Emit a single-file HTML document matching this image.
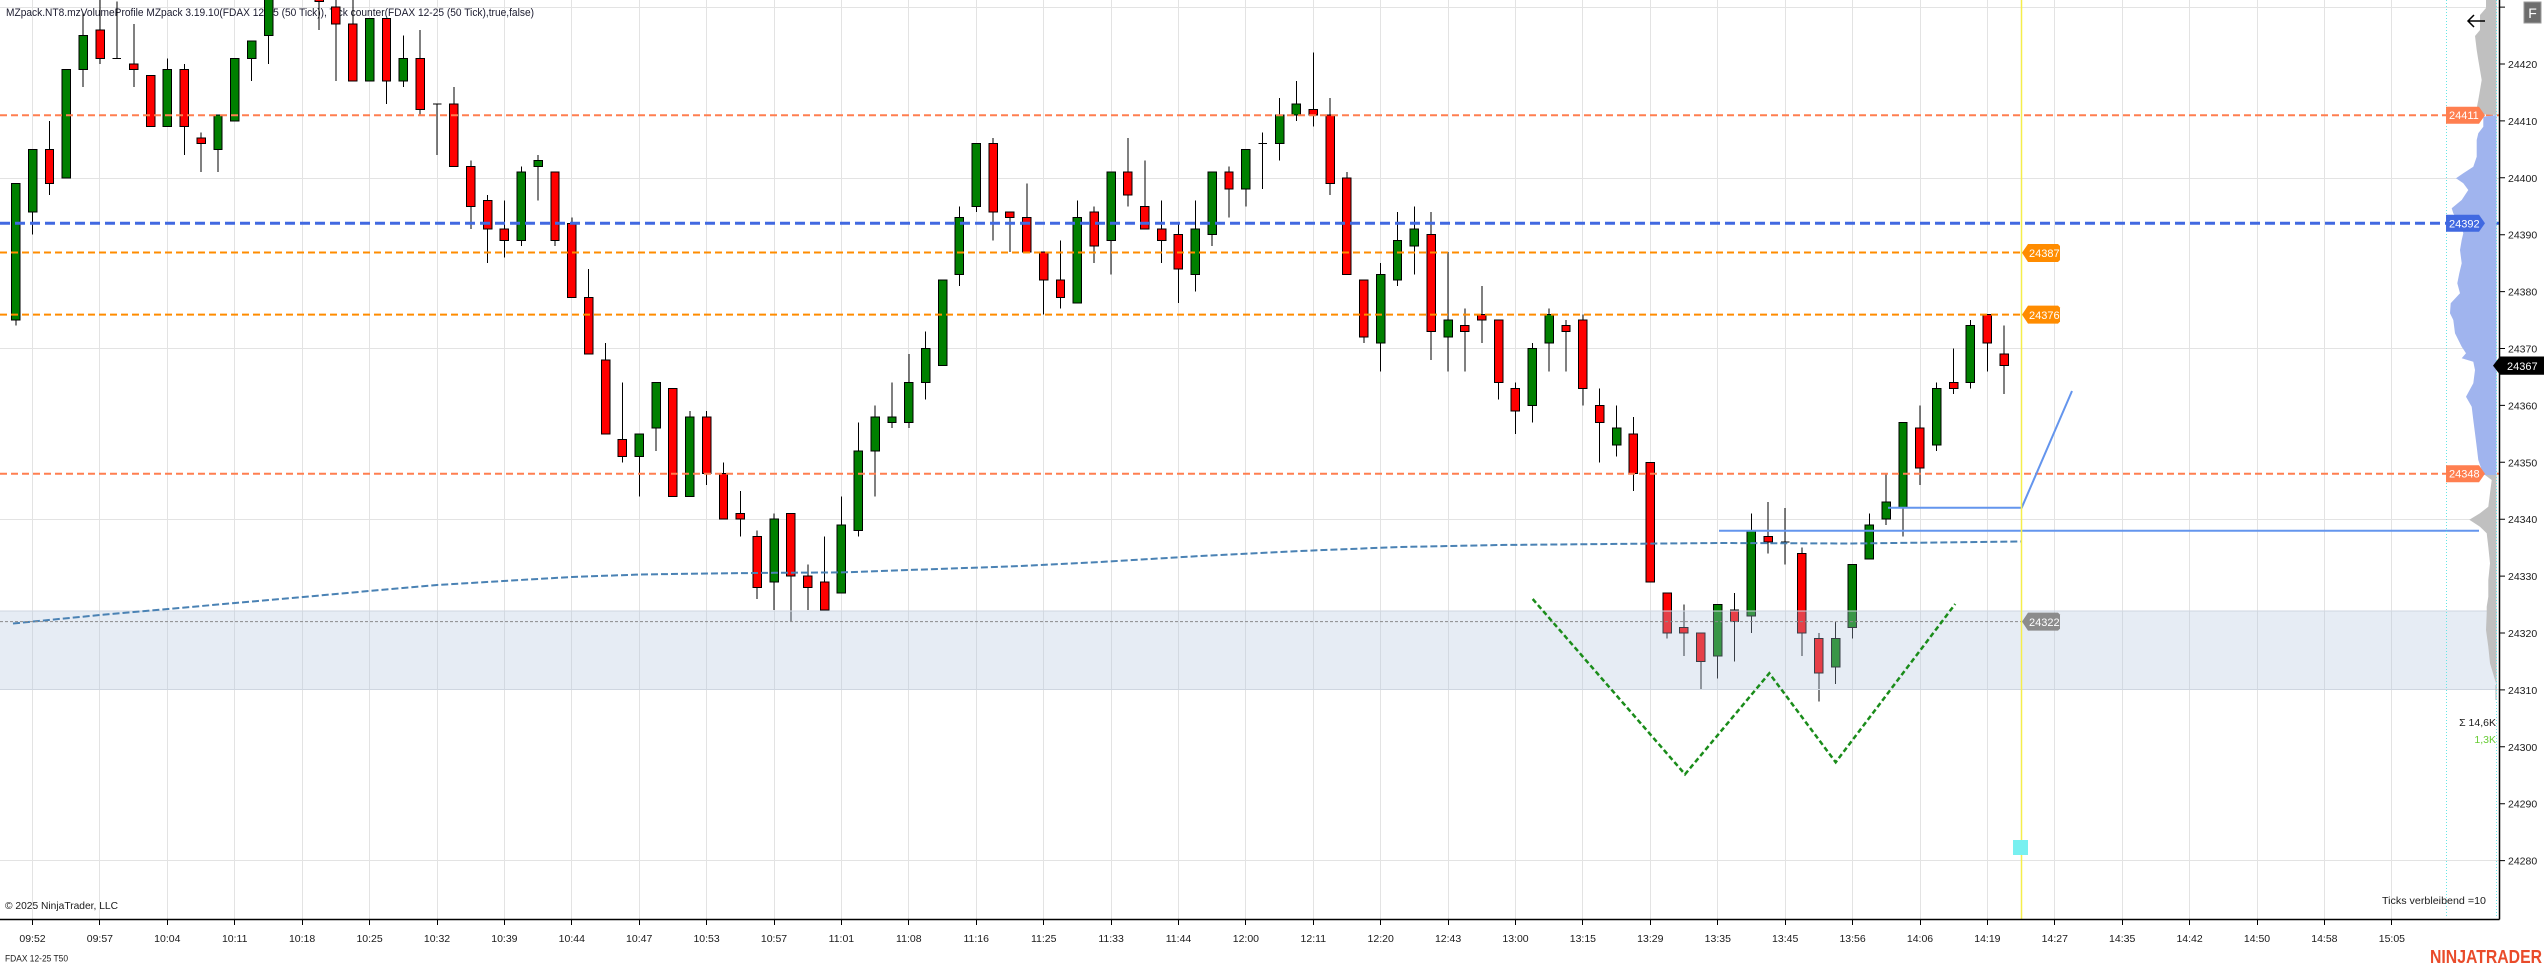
<!DOCTYPE html>
<html><head><meta charset="utf-8"><style>
html,body{margin:0;padding:0;background:#fff;}
body{width:2544px;height:968px;overflow:hidden;}
svg{display:block;font-family:"Liberation Sans",sans-serif;}
</style></head><body>
<svg width="2544" height="968" viewBox="0 0 2544 968" xmlns="http://www.w3.org/2000/svg">
<defs><clipPath id="pc"><rect x="0" y="0" width="2499" height="919"/></clipPath></defs>
<rect width="2544" height="968" fill="#fff"/>
<g stroke="#e3e3e3" stroke-width="1" shape-rendering="crispEdges">
<path d="M32.5 0V919M99.5 0V919M167.5 0V919M234.5 0V919M302.5 0V919M369.5 0V919M437.5 0V919M504.5 0V919M571.5 0V919M639.5 0V919M706.5 0V919M774.5 0V919M841.5 0V919M908.5 0V919M976.5 0V919M1043.5 0V919M1111.5 0V919M1178.5 0V919M1245.5 0V919M1313.5 0V919M1380.5 0V919M1448.5 0V919M1515.5 0V919M1582.5 0V919M1650.5 0V919M1717.5 0V919M1785.5 0V919M1852.5 0V919M1920.5 0V919M1987.5 0V919M2054.5 0V919M2122.5 0V919M2189.5 0V919M2257.5 0V919M2324.5 0V919M2391.5 0V919"/>
<path d="M0 7.5H2499M0 178.5H2499M0 348.5H2499M0 519.5H2499M0 689.5H2499M0 860.5H2499"/>
</g>
<text x="6" y="16" font-size="11" fill="#1b1b2f" textLength="528" lengthAdjust="spacingAndGlyphs">MZpack.NT8.mzVolumeProfile MZpack 3.19.10(FDAX 12-25 (50 Tick)), Tick counter(FDAX 12-25 (50 Tick),true,false)</text>
<g clip-path="url(#pc)">
<g transform="translate(15.8,746.8) scale(16.85,-5.69)" shape-rendering="crispEdges">
<path fill="none" stroke="#000" stroke-width="1" vector-effect="non-scaling-stroke" d="M0 99V74M1 105V90M2 110V97M3 119V100M4 129V116M5 133V120M6 131V121M7 127V116M8 118V109M9 121V109M10 120V104M11 108V101M12 111V101M13 121V110M14 124V117M15 135V120M16 142V133M17 141V133M18 136V126M19 133V117M20 133V117M21 128V117M22 128V113M23 125V116M24 126V111M25 113V104M26 116V102M27 103V91M28 97V85M29 96V86M30 102V88M31 104V96M32 101V88M33 93V79M34 84V69M35 71V55M36 64V50M37 55V44M38 64V52M39 63V44M40 59V44M41 59V46M42 50V40M43 45V37M44 38V26M45 41V24M46 41V22M47 32V24M48 37V24M49 44V27M50 57V37M51 60V44M52 64V56M53 69V56M54 73V61M55 82V67M56 95V81M57 106V94M58 107V89M59 94V87M60 99V87M61 87V76M62 89V77M63 96V78M64 95V85M65 101V83M66 107V95M67 103V91M68 96V85M69 92V78M70 96V80M71 101V88M72 102V93M73 105V95M74 108V98M75 114V103M76 117V110M77 122V109M78 114V97M79 101V83M80 82V71M81 85V66M82 94V81M83 95V83M84 94V68M85 87V66M86 77V66M87 81V71M88 75V61M89 64V55M90 71V57M91 77V66M92 75V66M93 76V60M94 63V50M95 60V51M96 58V45M97 50V29M98 27V19M99 25V16M100 20V10M101 25V12M102 27V15M103 41V20M104 43V34M105 42V32M106 35V16M107 20V8M108 22V11M109 32V19M110 41V33M111 48V39M112 57V37M113 60V46M114 64V52M115 70V62M116 75V63M117 76V66M118 74V62M5.75 121H6.25M24.75 113H25.25M73.75 106H74.25M104.75 36H105.25"/>
<g fill="#008000" stroke="#000" stroke-width="1" vector-effect="non-scaling-stroke">
<rect x="-0.25" y="75" width="0.5" height="24" vector-effect="non-scaling-stroke"/>
<rect x="0.75" y="94" width="0.5" height="11" vector-effect="non-scaling-stroke"/>
<rect x="2.75" y="100" width="0.5" height="19" vector-effect="non-scaling-stroke"/>
<rect x="3.75" y="119" width="0.5" height="6" vector-effect="non-scaling-stroke"/>
<rect x="8.75" y="109" width="0.5" height="10" vector-effect="non-scaling-stroke"/>
<rect x="11.75" y="105" width="0.5" height="6" vector-effect="non-scaling-stroke"/>
<rect x="12.75" y="110" width="0.5" height="11" vector-effect="non-scaling-stroke"/>
<rect x="13.75" y="121" width="0.5" height="3" vector-effect="non-scaling-stroke"/>
<rect x="14.75" y="125" width="0.5" height="10" vector-effect="non-scaling-stroke"/>
<rect x="15.75" y="133" width="0.5" height="7" vector-effect="non-scaling-stroke"/>
<rect x="20.75" y="117" width="0.5" height="11" vector-effect="non-scaling-stroke"/>
<rect x="22.75" y="117" width="0.5" height="4" vector-effect="non-scaling-stroke"/>
<rect x="29.75" y="89" width="0.5" height="12" vector-effect="non-scaling-stroke"/>
<rect x="30.75" y="102" width="0.5" height="1" vector-effect="non-scaling-stroke"/>
<rect x="36.75" y="51" width="0.5" height="4" vector-effect="non-scaling-stroke"/>
<rect x="37.75" y="56" width="0.5" height="8" vector-effect="non-scaling-stroke"/>
<rect x="39.75" y="44" width="0.5" height="14" vector-effect="non-scaling-stroke"/>
<rect x="44.75" y="29" width="0.5" height="11" vector-effect="non-scaling-stroke"/>
<rect x="48.75" y="27" width="0.5" height="12" vector-effect="non-scaling-stroke"/>
<rect x="49.75" y="38" width="0.5" height="14" vector-effect="non-scaling-stroke"/>
<rect x="50.75" y="52" width="0.5" height="6" vector-effect="non-scaling-stroke"/>
<rect x="51.75" y="57" width="0.5" height="1" vector-effect="non-scaling-stroke"/>
<rect x="52.75" y="57" width="0.5" height="7" vector-effect="non-scaling-stroke"/>
<rect x="53.75" y="64" width="0.5" height="6" vector-effect="non-scaling-stroke"/>
<rect x="54.75" y="67" width="0.5" height="15" vector-effect="non-scaling-stroke"/>
<rect x="55.75" y="83" width="0.5" height="10" vector-effect="non-scaling-stroke"/>
<rect x="56.75" y="95" width="0.5" height="11" vector-effect="non-scaling-stroke"/>
<rect x="62.75" y="78" width="0.5" height="15" vector-effect="non-scaling-stroke"/>
<rect x="64.75" y="89" width="0.5" height="12" vector-effect="non-scaling-stroke"/>
<rect x="69.75" y="83" width="0.5" height="8" vector-effect="non-scaling-stroke"/>
<rect x="70.75" y="90" width="0.5" height="11" vector-effect="non-scaling-stroke"/>
<rect x="72.75" y="98" width="0.5" height="7" vector-effect="non-scaling-stroke"/>
<rect x="74.75" y="106" width="0.5" height="5" vector-effect="non-scaling-stroke"/>
<rect x="75.75" y="111" width="0.5" height="2" vector-effect="non-scaling-stroke"/>
<rect x="80.75" y="71" width="0.5" height="12" vector-effect="non-scaling-stroke"/>
<rect x="81.75" y="82" width="0.5" height="7" vector-effect="non-scaling-stroke"/>
<rect x="82.75" y="88" width="0.5" height="3" vector-effect="non-scaling-stroke"/>
<rect x="84.75" y="72" width="0.5" height="3" vector-effect="non-scaling-stroke"/>
<rect x="89.75" y="60" width="0.5" height="10" vector-effect="non-scaling-stroke"/>
<rect x="90.75" y="71" width="0.5" height="5" vector-effect="non-scaling-stroke"/>
<rect x="94.75" y="53" width="0.5" height="3" vector-effect="non-scaling-stroke"/>
<rect x="100.75" y="16" width="0.5" height="9" vector-effect="non-scaling-stroke"/>
<rect x="102.75" y="23" width="0.5" height="15" vector-effect="non-scaling-stroke"/>
<rect x="107.75" y="14" width="0.5" height="5" vector-effect="non-scaling-stroke"/>
<rect x="108.75" y="21" width="0.5" height="11" vector-effect="non-scaling-stroke"/>
<rect x="109.75" y="33" width="0.5" height="6" vector-effect="non-scaling-stroke"/>
<rect x="110.75" y="40" width="0.5" height="3" vector-effect="non-scaling-stroke"/>
<rect x="111.75" y="42" width="0.5" height="15" vector-effect="non-scaling-stroke"/>
<rect x="113.75" y="53" width="0.5" height="10" vector-effect="non-scaling-stroke"/>
<rect x="115.75" y="64" width="0.5" height="10" vector-effect="non-scaling-stroke"/>
</g>
<g fill="#ff0000" stroke="#000" stroke-width="1">
<rect x="1.75" y="99" width="0.5" height="6" vector-effect="non-scaling-stroke"/>
<rect x="4.75" y="121" width="0.5" height="5" vector-effect="non-scaling-stroke"/>
<rect x="6.75" y="119" width="0.5" height="1" vector-effect="non-scaling-stroke"/>
<rect x="7.75" y="109" width="0.5" height="9" vector-effect="non-scaling-stroke"/>
<rect x="9.75" y="109" width="0.5" height="10" vector-effect="non-scaling-stroke"/>
<rect x="10.75" y="106" width="0.5" height="1" vector-effect="non-scaling-stroke"/>
<rect x="16.75" y="134" width="0.5" height="6" vector-effect="non-scaling-stroke"/>
<rect x="17.75" y="131" width="0.5" height="3" vector-effect="non-scaling-stroke"/>
<rect x="18.75" y="127" width="0.5" height="3" vector-effect="non-scaling-stroke"/>
<rect x="19.75" y="117" width="0.5" height="10" vector-effect="non-scaling-stroke"/>
<rect x="21.75" y="117" width="0.5" height="11" vector-effect="non-scaling-stroke"/>
<rect x="23.75" y="112" width="0.5" height="9" vector-effect="non-scaling-stroke"/>
<rect x="25.75" y="102" width="0.5" height="11" vector-effect="non-scaling-stroke"/>
<rect x="26.75" y="95" width="0.5" height="7" vector-effect="non-scaling-stroke"/>
<rect x="27.75" y="91" width="0.5" height="5" vector-effect="non-scaling-stroke"/>
<rect x="28.75" y="89" width="0.5" height="2" vector-effect="non-scaling-stroke"/>
<rect x="31.75" y="89" width="0.5" height="12" vector-effect="non-scaling-stroke"/>
<rect x="32.75" y="79" width="0.5" height="13" vector-effect="non-scaling-stroke"/>
<rect x="33.75" y="69" width="0.5" height="10" vector-effect="non-scaling-stroke"/>
<rect x="34.75" y="55" width="0.5" height="13" vector-effect="non-scaling-stroke"/>
<rect x="35.75" y="51" width="0.5" height="3" vector-effect="non-scaling-stroke"/>
<rect x="38.75" y="44" width="0.5" height="19" vector-effect="non-scaling-stroke"/>
<rect x="40.75" y="48" width="0.5" height="10" vector-effect="non-scaling-stroke"/>
<rect x="41.75" y="40" width="0.5" height="8" vector-effect="non-scaling-stroke"/>
<rect x="42.75" y="40" width="0.5" height="1" vector-effect="non-scaling-stroke"/>
<rect x="43.75" y="28" width="0.5" height="9" vector-effect="non-scaling-stroke"/>
<rect x="45.75" y="30" width="0.5" height="11" vector-effect="non-scaling-stroke"/>
<rect x="46.75" y="28" width="0.5" height="2" vector-effect="non-scaling-stroke"/>
<rect x="47.75" y="24" width="0.5" height="5" vector-effect="non-scaling-stroke"/>
<rect x="57.75" y="94" width="0.5" height="12" vector-effect="non-scaling-stroke"/>
<rect x="58.75" y="93" width="0.5" height="1" vector-effect="non-scaling-stroke"/>
<rect x="59.75" y="87" width="0.5" height="6" vector-effect="non-scaling-stroke"/>
<rect x="60.75" y="82" width="0.5" height="5" vector-effect="non-scaling-stroke"/>
<rect x="61.75" y="79" width="0.5" height="3" vector-effect="non-scaling-stroke"/>
<rect x="63.75" y="88" width="0.5" height="6" vector-effect="non-scaling-stroke"/>
<rect x="65.75" y="97" width="0.5" height="4" vector-effect="non-scaling-stroke"/>
<rect x="66.75" y="91" width="0.5" height="4" vector-effect="non-scaling-stroke"/>
<rect x="67.75" y="89" width="0.5" height="2" vector-effect="non-scaling-stroke"/>
<rect x="68.75" y="84" width="0.5" height="6" vector-effect="non-scaling-stroke"/>
<rect x="71.75" y="98" width="0.5" height="3" vector-effect="non-scaling-stroke"/>
<rect x="76.75" y="111" width="0.5" height="1" vector-effect="non-scaling-stroke"/>
<rect x="77.75" y="99" width="0.5" height="12" vector-effect="non-scaling-stroke"/>
<rect x="78.75" y="83" width="0.5" height="17" vector-effect="non-scaling-stroke"/>
<rect x="79.75" y="72" width="0.5" height="10" vector-effect="non-scaling-stroke"/>
<rect x="83.75" y="73" width="0.5" height="17" vector-effect="non-scaling-stroke"/>
<rect x="85.75" y="73" width="0.5" height="1" vector-effect="non-scaling-stroke"/>
<rect x="86.75" y="75" width="0.5" height="1" vector-effect="non-scaling-stroke"/>
<rect x="87.75" y="64" width="0.5" height="11" vector-effect="non-scaling-stroke"/>
<rect x="88.75" y="59" width="0.5" height="4" vector-effect="non-scaling-stroke"/>
<rect x="91.75" y="73" width="0.5" height="1" vector-effect="non-scaling-stroke"/>
<rect x="92.75" y="63" width="0.5" height="12" vector-effect="non-scaling-stroke"/>
<rect x="93.75" y="57" width="0.5" height="3" vector-effect="non-scaling-stroke"/>
<rect x="95.75" y="48" width="0.5" height="7" vector-effect="non-scaling-stroke"/>
<rect x="96.75" y="29" width="0.5" height="21" vector-effect="non-scaling-stroke"/>
<rect x="97.75" y="20" width="0.5" height="7" vector-effect="non-scaling-stroke"/>
<rect x="98.75" y="20" width="0.5" height="1" vector-effect="non-scaling-stroke"/>
<rect x="99.75" y="15" width="0.5" height="5" vector-effect="non-scaling-stroke"/>
<rect x="101.75" y="22" width="0.5" height="2" vector-effect="non-scaling-stroke"/>
<rect x="103.75" y="36" width="0.5" height="1" vector-effect="non-scaling-stroke"/>
<rect x="105.75" y="20" width="0.5" height="14" vector-effect="non-scaling-stroke"/>
<rect x="106.75" y="13" width="0.5" height="6" vector-effect="non-scaling-stroke"/>
<rect x="112.75" y="49" width="0.5" height="7" vector-effect="non-scaling-stroke"/>
<rect x="114.75" y="63" width="0.5" height="1" vector-effect="non-scaling-stroke"/>
<rect x="116.75" y="71" width="0.5" height="5" vector-effect="non-scaling-stroke"/>
<rect x="117.75" y="67" width="0.5" height="2" vector-effect="non-scaling-stroke"/>
</g>
</g>
<!-- band overlay -->
<rect x="0" y="611" width="2497" height="78.5" fill="rgb(176,196,222)" fill-opacity="0.32"/>
<path d="M0 611H2497M0 689.5H2497" stroke="#cfd6e0" stroke-width="1"/>
<!-- VWAP -->
<polyline fill="none" stroke="#4a82b4" stroke-width="2" stroke-dasharray="7,3" points="13,623.5 100,615 168,609 235,603 303,597 369,591 437,585 520,580 572,577 640,574.5 707,573.5 774,572.8 842,572.4 909,570 977,567.6 1020,566 1100,562 1200,556 1300,551 1400,547 1500,545 1718,543 1852,543.5 2021,541.5"/>
<!-- level lines -->
<path d="M0 115.2H2499M0 473.7H2499" stroke="#ff7f50" stroke-width="2" stroke-dasharray="7,4"/>
<path d="M0 223.3H2499" stroke="#4169e1" stroke-width="3" stroke-dasharray="10,5"/>
<path d="M0 252.5H2021M0 314.6H2021" stroke="#ff8c00" stroke-width="2" stroke-dasharray="7,4"/>
<path d="M0 621.6H2021" stroke="#8a8a8a" stroke-width="1" stroke-dasharray="3,2"/>
<!-- pattern drawings -->
<polyline fill="none" stroke="#1a8c1a" stroke-width="2.5" stroke-dasharray="5,3" points="1532.7,599 1685,774.3 1769.3,673.3 1835.7,762.3 1955.2,604"/>
<path d="M1719 530.7H2479" stroke="#6495ed" stroke-width="2"/>
<polyline fill="none" stroke="#6495ed" stroke-width="2" points="1888,507.7 2021.7,507.7 2072,391"/>
</g>
<!-- volume profile -->
<polygon fill="#c0c0c0" points="2496.5,0 2486,0 2486,8 2480,15 2480,30 2475,36 2476.7,50 2478.3,60 2480,70 2481.7,80 2480,90 2478.3,100 2476.7,108 2477,114 2496.5,115"/>
<polygon fill="#a0b4ee" points="2496.5,115 2483.3,116.7 2483.3,126.7 2478.3,133.3 2476.7,140 2476.7,156.7 2473.3,166.7 2463.3,173.3 2456,178.3 2463.3,183.3 2468.3,190 2461.7,200 2451.7,208.3 2453.3,213.3 2461.7,226.7 2463.3,233.3 2461.7,240 2460,250 2461.7,263.3 2459.3,273.3 2457.3,283.3 2460,293.3 2450.7,303.3 2450,313.3 2453.3,320 2455,333.3 2461.7,346.7 2466,353.3 2461.7,358.3 2473.3,361.7 2475,370 2473.3,383.3 2466,396.7 2471.7,406.7 2473.3,420 2475,433.3 2476.7,446.7 2478.3,460 2481.7,470 2483.3,475 2496.5,475"/>
<polygon fill="#c0c0c0" points="2496.5,475 2485,475 2491.7,480 2490,493.3 2488.3,506.7 2480,513.3 2469.3,519.7 2480,526.7 2486.7,533.3 2488.3,546.7 2490,563.3 2488.3,580 2488.3,596.7 2486.7,606.7 2486.7,613.3 2486,630 2488.3,646.7 2490,663.3 2495,680 2496.5,685"/>
<path d="M2496 685V700" stroke="#b0b0b0" stroke-width="1"/>
<path d="M2446.5 0V916M2496.5 0V916" stroke="#66e6e6" stroke-width="1" stroke-dasharray="1,2"/>
<!-- yellow line & cyan marker -->
<path d="M2021.5 0V919" stroke="#f5ee4a" stroke-width="1.5"/>
<rect x="2013" y="840" width="15" height="15" fill="#78f0f0"/>
<!-- labels -->
<g font-size="11" fill="#fff">
<path d="M2446 106.7H2479L2485 115.2L2479 123.7H2446Z" fill="#ff7f50"/><text x="2449" y="119.2">24411</text>
<path d="M2446 214.8H2479L2485 223.3L2479 231.8H2446Z" fill="#4169e1"/><text x="2449" y="227.3">24392</text>
<path d="M2446 465.2H2479L2485 473.7L2479 482.2H2446Z" fill="#ff7f50"/><text x="2449" y="477.7">24348</text>
<path d="M2022 252.8L2028 244H2058L2060 246V260L2058 262H2028Z" fill="#ff8c00"/><text x="2029" y="257">24387</text>
<path d="M2022 314.6L2028 305.6H2058L2060 307.6V321.6L2058 323.6H2028Z" fill="#ff8c00"/><text x="2029" y="318.8">24376</text>
<path d="M2022 621.6L2028 612.6H2058L2060 614.6V628.6L2058 630.6H2028Z" fill="#8c8c8c"/><text x="2029" y="625.8">24322</text>
<path d="M2493 365.6L2500 356.5H2544V374.7H2500Z" fill="#000"/><text x="2507" y="369.8">24367</text>
</g>
<!-- axes -->
<path d="M0 919.5H2499.5M2499.5 0V919.5" stroke="#000" stroke-width="1.5" fill="none"/>
<path stroke="#000" stroke-width="1" d="M32.5 919V925M99.5 919V925M167.5 919V925M234.5 919V925M302.5 919V925M369.5 919V925M437.5 919V925M504.5 919V925M571.5 919V925M639.5 919V925M706.5 919V925M774.5 919V925M841.5 919V925M908.5 919V925M976.5 919V925M1043.5 919V925M1111.5 919V925M1178.5 919V925M1245.5 919V925M1313.5 919V925M1380.5 919V925M1448.5 919V925M1515.5 919V925M1582.5 919V925M1650.5 919V925M1717.5 919V925M1785.5 919V925M1852.5 919V925M1920.5 919V925M1987.5 919V925M2054.5 919V925M2122.5 919V925M2189.5 919V925M2257.5 919V925M2324.5 919V925M2391.5 919V925"/>
<path stroke="#000" stroke-width="1" d="M2499 7.1H2505M2499 64H2505M2499 120.9H2505M2499 177.8H2505M2499 234.7H2505M2499 291.6H2505M2499 348.5H2505M2499 405.4H2505M2499 462.3H2505M2499 519.2H2505M2499 576.1H2505M2499 633H2505M2499 689.9H2505M2499 746.8H2505M2499 803.7H2505M2499 860.6H2505"/>
<g font-size="10.5" fill="#1a1a1a">
<text x="2508" y="68">24420</text><text x="2508" y="124.9">24410</text><text x="2508" y="181.8">24400</text><text x="2508" y="238.7">24390</text><text x="2508" y="295.6">24380</text><text x="2508" y="352.5">24370</text><text x="2508" y="409.4">24360</text><text x="2508" y="466.3">24350</text><text x="2508" y="523.2">24340</text><text x="2508" y="580.1">24330</text><text x="2508" y="637">24320</text><text x="2508" y="693.9">24310</text><text x="2508" y="750.8">24300</text><text x="2508" y="807.7">24290</text><text x="2508" y="864.6">24280</text>
</g>
<g font-size="10.5" fill="#1a1a1a" text-anchor="middle">
<text x="32.5" y="942">09:52</text><text x="99.9" y="942">09:57</text><text x="167.3" y="942">10:04</text><text x="234.7" y="942">10:11</text><text x="302.1" y="942">10:18</text><text x="369.6" y="942">10:25</text><text x="437" y="942">10:32</text><text x="504.4" y="942">10:39</text><text x="571.8" y="942">10:44</text><text x="639.2" y="942">10:47</text><text x="706.6" y="942">10:53</text><text x="774" y="942">10:57</text><text x="841.4" y="942">11:01</text><text x="908.8" y="942">11:08</text><text x="976.2" y="942">11:16</text><text x="1043.7" y="942">11:25</text><text x="1111.1" y="942">11:33</text><text x="1178.5" y="942">11:44</text><text x="1245.9" y="942">12:00</text><text x="1313.3" y="942">12:11</text><text x="1380.7" y="942">12:20</text><text x="1448.1" y="942">12:43</text><text x="1515.5" y="942">13:00</text><text x="1582.9" y="942">13:15</text><text x="1650.3" y="942">13:29</text><text x="1717.8" y="942">13:35</text><text x="1785.2" y="942">13:45</text><text x="1852.6" y="942">13:56</text><text x="1920" y="942">14:06</text><text x="1987.4" y="942">14:19</text><text x="2054.8" y="942">14:27</text><text x="2122.2" y="942">14:35</text><text x="2189.6" y="942">14:42</text><text x="2257" y="942">14:50</text><text x="2324.4" y="942">14:58</text><text x="2391.9" y="942">15:05</text>
</g>
<!-- misc text -->
<text x="5" y="909" font-size="10.5" fill="#1a1a1a" textLength="113" lengthAdjust="spacingAndGlyphs">© 2025 NinjaTrader, LLC</text>
<text x="5" y="961.5" font-size="9" fill="#1a1a1a" textLength="63" lengthAdjust="spacingAndGlyphs">FDAX 12-25 T50</text>
<text x="2382" y="904" font-size="10.5" fill="#1a1a1a" textLength="104" lengthAdjust="spacingAndGlyphs">Ticks verbleibend =10</text>
<text x="2496" y="726" font-size="10.5" fill="#1a1a1a" text-anchor="end">Σ 14,6K</text>
<text x="2496" y="743" font-size="10.5" fill="#66cc33" text-anchor="end">1,3K</text>
<text x="2430" y="963" font-size="18" font-weight="bold" fill="#e94b2a" textLength="112" lengthAdjust="spacingAndGlyphs">NINJATRADER</text>
<!-- top-right controls -->
<path d="M2468 21H2485M2474 15L2468 21L2474 27" stroke="#000" stroke-width="1.5" fill="none"/>
<rect x="2524" y="2" width="17" height="21" fill="#6d6d6d" stroke="#9a9a9a" stroke-width="1"/>
<text x="2532.5" y="18" font-size="14" fill="#fff" text-anchor="middle">F</text>
</svg>
</body></html>
